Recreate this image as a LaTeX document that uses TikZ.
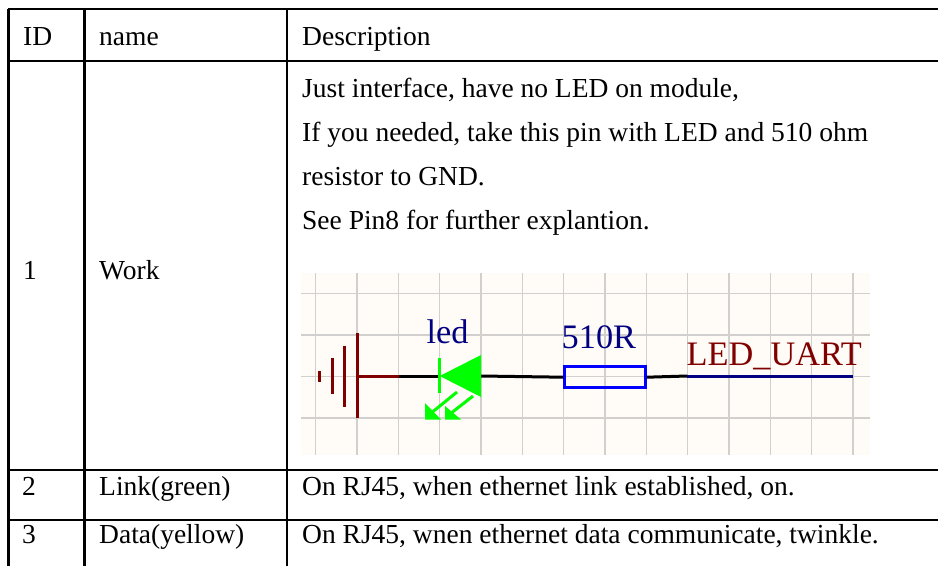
\documentclass[tikz,border=0pt]{standalone}
\usepackage{fontspec}
\setmainfont{Liberation Serif}
\definecolor{darkred}{HTML}{800000}
\definecolor{navy}{HTML}{000080}
\definecolor{gridc}{HTML}{D2D0CE}
\definecolor{schbg}{HTML}{FFFBF6}
\definecolor{ledgreen}{HTML}{00FF00}
\begin{document}
\begin{tikzpicture}[x=1pt,y=-1pt,
  rule/.style={line width=2.6pt, black},
  txt/.style={anchor=base west, inner sep=0pt, font=\fontsize{27.5}{32}\selectfont},
  schtxt/.style={anchor=base west, inner sep=0pt, font=\fontsize{34.3}{40}\selectfont},
  wire/.style={line width=3pt},
  gridline/.style={line width=1.4pt, gridc}]
\useasboundingbox (0,0) rectangle (938,566);
\fill[white] (0,0) rectangle (938,566);
% table rules
\draw[rule] (8,9) -- (938,9);
\draw[rule] (8,61) -- (938,61);
\draw[rule] (8,470) -- (938,470);
\draw[rule] (8,520) -- (938,520);
\draw[rule] (8.5,9) -- (8.5,566);
\draw[rule] (84.5,9) -- (84.5,566);
\draw[rule] (287,9) -- (287,566);
% header
\node[txt] (hid) at (23,45) {ID};
\node[txt] (hname) at (99,45) {name};
\node[txt] (hdesc) at (302,45) {Description};
% row 1
\node[txt] (id1) at (23,279) {1};
\node[txt] (name1) at (99,279) {Work};
\node[txt] (d1a) at (302,97) {Just interface, have no LED on module,};
\node[txt] (d1b) at (302,141) {If you needed, take this pin with LED and 510 ohm};
\node[txt] (d1c) at (302,185) {resistor to GND.};
\node[txt] (d1d) at (302,229) {See Pin8 for further explantion.};
% row 2
\node[txt] (id2) at (22,495) {2};
\node[txt] (name2) at (99,495) {Link(green)};
\node[txt] (d2) at (302,495) {On RJ45, when ethernet link established, on.};
% row 3
\node[txt] (id3) at (22,543) {3};
\node[txt] (name3) at (99,543) {Data(yellow)};
\node[txt] (d3) at (302,543) {On RJ45, wnen ethernet data communicate, twinkle.};
% schematic background and grid
\fill[schbg] (301,273) rectangle (870,455);
\foreach \k in {0,...,13} \draw[gridline] (315.7+41.33*\k,273) -- (315.7+41.33*\k,455);
\foreach \k in {0,...,3} \draw[gridline] (301,293.3+41.5*\k) -- (870,293.3+41.5*\k);
% named points
\coordinate (gnd) at (357.3,376);
\coordinate (j1) at (398.7,376);
\coordinate (ledK) at (439.7,376);
\coordinate (ledA) at (481,376);
\coordinate (j2) at (687.3,376);
\coordinate (netend) at (852.7,376);
% ground symbol
\draw[darkred, line width=3pt] (357.3,333) -- (357.3,418);
\draw[darkred, line width=3pt] (344,346) -- (344,407);
\draw[darkred, line width=3pt] (332.3,358) -- (332.3,394);
\draw[darkred, line width=3pt] (319.7,371) -- (319.7,382);
% resistor
\node[draw=blue, line width=3pt, minimum width=80.4pt, minimum height=21.3pt, inner sep=0pt] (res) at (605,377.2) {};
% wires
\draw[wire, darkred] (gnd) -- (j1);
\draw[wire, black] (j1) -- (ledK);
\draw[wire, black] (ledA) -- (res.west);
\draw[wire, black] (res.east) -- (j2);
\draw[wire, navy] (j2) -- (netend);
% LED
\fill[ledgreen] (ledK) -- (481,355) -- (481,397) -- cycle;
\draw[ledgreen, line width=3pt] (439.7,358) -- (439.7,393);
\draw[ledgreen, line width=3pt] (457,392) -- (430,414);
\draw[ledgreen, line width=3pt] (473,396) -- (450,414);
\fill[ledgreen] (425,403) -- (425,419.5) -- (441,419.5) -- cycle;
\fill[ledgreen] (445,406) -- (445,419.5) -- (461,419.5) -- cycle;
% labels
\node[schtxt, navy] (ledlbl) at (426.5,343) {led};
\node[schtxt, navy] (reslbl) at (561.5,348) {510R};
\node[schtxt, darkred] (netlbl) at (686.5,365) {LED\_UART};
\end{tikzpicture}
\end{document}
